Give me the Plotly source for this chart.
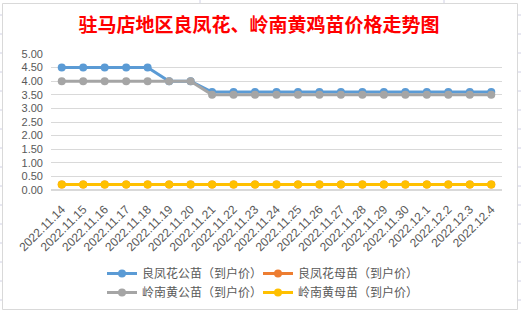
import plotly.graph_objects as go

dates = ["2022.11.14", "2022.11.15", "2022.11.16", "2022.11.17", "2022.11.18",
         "2022.11.19", "2022.11.20", "2022.11.21", "2022.11.22", "2022.11.23",
         "2022.11.24", "2022.11.25", "2022.11.26", "2022.11.27", "2022.11.28",
         "2022.11.29", "2022.11.30", "2022.12.1", "2022.12.2", "2022.12.3", "2022.12.4"]
lfh_male = [4.5, 4.5, 4.5, 4.5, 4.5, 4.0, 4.0] + [3.6] * 14
lfh_female = [0.2] * 21
lnh_male = [4.0] * 7 + [3.5] * 14
lnh_female = [0.2] * 21

series = [
    ("良凤花公苗（到户价）", lfh_male, "#5B9BD5"),
    ("良凤花母苗（到户价）", lfh_female, "#ED7D31"),
    ("岭南黄公苗（到户价）", lnh_male, "#A5A5A5"),
    ("岭南黄母苗（到户价）", lnh_female, "#FFC000"),
]

W, H = 521, 312
L, R, T, B = 51, 502, 54, 190

fig = go.Figure()
for name, vals, col in series:
    fig.add_trace(go.Scatter(x=dates, y=vals, name=name, mode="lines+markers",
                             line=dict(color=col, width=3),
                             marker=dict(color=col, size=8)))

def px2x(px):
    return (px - L) / (R - L)

def py2y(py):
    return (B - py) / (B - T)

shapes = []
# chart border
shapes.append(dict(type="rect", xref="paper", yref="paper",
                   x0=px2x(2.5), x1=px2x(517.5), y0=py2y(3.5), y1=py2y(309.5),
                   line=dict(color="#D9D9D9", width=1), layer="below"))
# spreadsheet grid marks outside chart
for k in range(17):
    yy = 15 + k * 19
    if yy > 312:
        break
    shapes.append(dict(type="line", xref="paper", yref="paper",
                       x0=px2x(0), x1=px2x(2), y0=py2y(yy), y1=py2y(yy),
                       line=dict(color="#D0D0E4", width=1)))
    shapes.append(dict(type="line", xref="paper", yref="paper",
                       x0=px2x(518), x1=px2x(521), y0=py2y(yy), y1=py2y(yy),
                       line=dict(color="#D0D0E4", width=1)))
for xx in (200, 444):
    shapes.append(dict(type="line", xref="paper", yref="paper",
                       x0=px2x(xx), x1=px2x(xx), y0=py2y(0), y1=py2y(3),
                       line=dict(color="#D0D0E4", width=1)))

fig.update_layout(
    width=W, height=H,
    margin=dict(l=L, r=W - R, t=T, b=H - B, autoexpand=False),
    paper_bgcolor="white", plot_bgcolor="white",
    font=dict(family="Noto Sans CJK SC", size=12, color="#595959"),
    title=dict(text="<b>驻马店地区良凤花、岭南黄鸡苗价格走势图</b>",
               x=259 / W, xanchor="center", y=1 - 25 / H, yanchor="middle",
               font=dict(family="Noto Sans CJK SC", size=19, color="#FF0000")),
    xaxis=dict(type="category", tickangle=-45, showgrid=False, showline=False,
               ticks="", zeroline=False, range=[-0.5, 20.5], ticklabelstandoff=9,
               tickfont=dict(family="Liberation Sans", size=12, color="#595959")),
    yaxis=dict(range=[0, 5], dtick=0.5, tickformat=".2f", showgrid=True,
               gridcolor="#D9D9D9", gridwidth=1, zeroline=True, zerolinecolor="#D9D9D9",
               showline=False, ticks="", ticklabelstandoff=7,
               tickfont=dict(family="Liberation Sans", size=11, color="#595959")),
    legend=dict(orientation="h", x=px2x(102), xanchor="left", y=py2y(259), yanchor="top",
                entrywidth=111, entrywidthmode="pixels", itemwidth=30,
                font=dict(family="Noto Sans CJK SC", size=12, color="#595959"),
                tracegroupgap=0, bgcolor="rgba(0,0,0,0)"),
    shapes=shapes,
    showlegend=True,
)
fig.update_yaxes(automargin=False)
fig.update_xaxes(automargin=False)
fig.write_html("out.html")
